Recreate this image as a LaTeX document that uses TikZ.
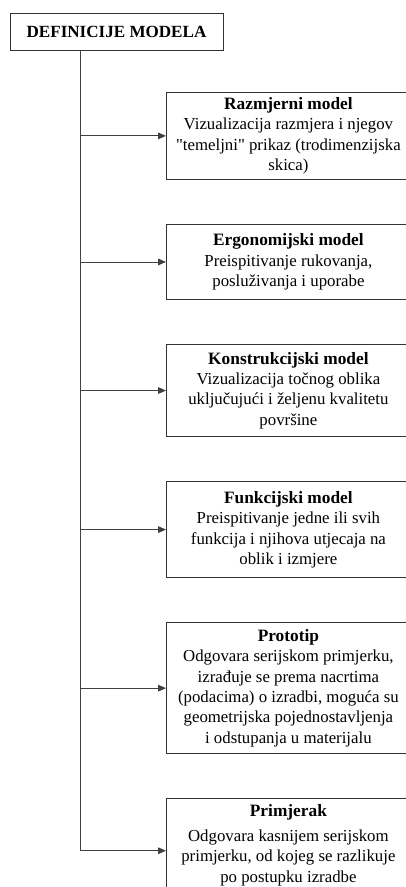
\documentclass[tikz,border=0pt]{standalone}
\usepackage{fontspec}
\setmainfont{Liberation Serif}
\usetikzlibrary{arrows.meta, positioning}

\newcommand{\naslov}[1]{{\fontsize{13}{15.3}\selectfont\bfseries #1}}

\begin{document}
\begin{tikzpicture}[
  x=0.75pt, y=-0.75pt,
  node distance=33.2pt,
  every node/.style={draw=black!80, line width=0.6pt, align=center, inner sep=0pt, font=\fontsize{12.6}{15.3}\selectfont},
  title/.style={minimum width=159.75pt, minimum height=27.75pt, font=\fontsize{12.8}{15}\selectfont\bfseries},
  model/.style={minimum width=183pt},
  arrow/.style={-{Triangle[length=6pt, width=5pt]}, draw=black!75, line width=0.6pt}
]
\useasboundingbox (0,0) rectangle (406,887);

% Glavni pojam
\node[title] (definicije) at (116.5,31.5) {DEFINICIJE MODELA};
\coordinate (trunk) at (80,50);

% Vrste modela
\node[model, minimum height=65.25pt, anchor=north west] (razmjerni) at (166,92) {\naslov{Razmjerni model}\\Vizualizacija razmjera i njegov\\\textquotedbl temeljni\textquotedbl{} prikaz (trodimenzijska\\skica)};
\node[model, minimum height=56.25pt, below=of razmjerni] (ergonomijski) {\naslov{Ergonomijski model}\\Preispitivanje rukovanja,\\posluživanja i uporabe};
\node[model, minimum height=69pt, below=of ergonomijski] (konstrukcijski) {\naslov{Konstrukcijski model}\\Vizualizacija točnog oblika\\uključujući i željenu kvalitetu\\površine};
\node[model, minimum height=72pt, below=of konstrukcijski] (funkcijski) {\naslov{Funkcijski model}\\Preispitivanje jedne ili svih\\funkcija i njihova utjecaja na\\oblik i izmjere};
\node[model, minimum height=98.25pt, below=of funkcijski] (prototip) {\naslov{Prototip}\\Odgovara serijskom primjerku,\\izrađuje se prema nacrtima\\(podacima) o izradbi, moguća su\\geometrijska pojednostavljenja\\i odstupanja u materijalu};
\node[model, minimum height=78pt, below=of prototip] (primjerak) {\naslov{Primjerak}\\[3.5pt]Odgovara kasnijem serijskom\\primjerku, od kojeg se razlikuje\\po postupku izradbe\rule[-11pt]{0pt}{0pt}};

% Strelice
\draw[arrow] (definicije.south -| trunk) |- (primjerak.west);
\draw[arrow] (trunk |- razmjerni.west) -- (razmjerni.west);
\draw[arrow] (trunk |- ergonomijski.west) -- (ergonomijski.west);
\draw[arrow] (trunk |- konstrukcijski.west) -- (konstrukcijski.west);
\draw[arrow] (trunk |- funkcijski.west) -- (funkcijski.west);
\draw[arrow] (trunk |- prototip.west) -- (prototip.west);

\end{tikzpicture}
\end{document}
